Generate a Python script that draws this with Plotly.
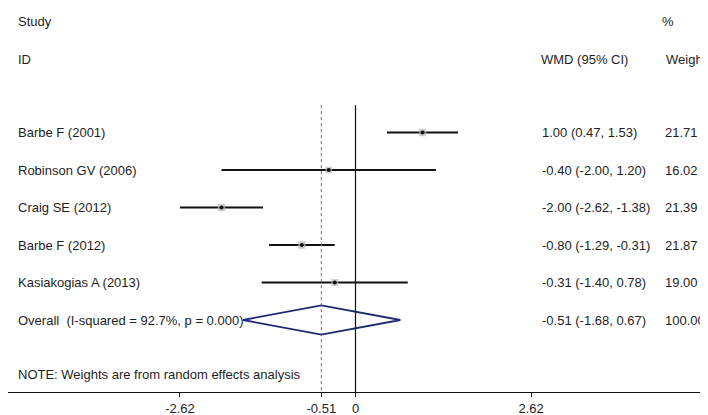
import plotly.graph_objects as go

# ---- data ----
studies = ["Barbe F (2001)", "Robinson GV (2006)", "Craig SE (2012)",
           "Barbe F (2012)", "Kasiakogias A (2013)"]
wmd = [1.00, -0.40, -2.00, -0.80, -0.31]
ci_low = [0.47, -2.00, -2.62, -1.29, -1.40]
ci_high = [1.53, 1.20, -1.38, -0.31, 0.78]
weights = [21.71, 16.02, 21.39, 21.87, 19.00]

overall_label = "Overall\u00a0 (I-squared = 92.7%, p = 0.000)"
overall_wmd = -0.51
overall_low = -1.68
overall_high = 0.67
overall_weight = 100.00

tick_vals = [-2.62, -0.51, 0, 2.62]
tick_text = ["-2.62", "-0.51", "0", "2.62"]
note_text = "NOTE: Weights are from random effects analysis"

# ---- layout helpers ----
W, H = 708, 415
B = 31
rows = list(range(len(studies)))
overall_row = len(studies)
FONT = dict(family="Arial, Liberation Sans, sans-serif", size=13, color="#1e1e1e")

fig = go.Figure()

# CI lines
cx, cy = [], []
for r, lo, hi in zip(rows, ci_low, ci_high):
    cx += [lo, hi, None]
    cy += [r, r, None]
fig.add_trace(go.Scatter(x=cx, y=cy, mode="lines",
                         line=dict(color="#111111", width=2), hoverinfo="skip"))

# weight boxes
sizes = [7.5 * (w / 21.87) ** 0.5 for w in weights]
fig.add_trace(go.Scatter(x=wmd, y=rows, mode="markers",
                         marker=dict(symbol="square", size=sizes, color="#b9b9b9",
                                     line=dict(width=0)), hoverinfo="skip"))
# point estimates
fig.add_trace(go.Scatter(x=wmd, y=rows, mode="markers",
                         marker=dict(symbol="circle", size=4, color="#111111"),
                         hoverinfo="skip"))

# overall diamond
h = 0.39
fig.add_trace(go.Scatter(
    x=[overall_low, overall_wmd, overall_high, overall_wmd, overall_low],
    y=[overall_row, overall_row - h, overall_row, overall_row + h, overall_row],
    mode="lines", line=dict(color="#1f2a6e", width=1.8), hoverinfo="skip"))

y_top = -0.73
y_bot = (H - B - 124.5) / 37.5
shapes = [
    dict(type="line", xref="x", yref="y", x0=0, x1=0, y0=y_top, y1=y_bot,
         line=dict(color="#111111", width=1.2)),
    dict(type="line", xref="x", yref="y", x0=overall_wmd, x1=overall_wmd,
         y0=y_top, y1=y_bot, line=dict(color="#b04a5a", width=1, dash="3px,3px")),
]

ann = []
def txt(xpx, y, s):
    ann.append(dict(x=xpx / W, xref="paper", y=y, yref="y", text=s,
                    showarrow=False, xanchor="left", yanchor="middle", font=FONT))

txt(8, -2.97, "Study")
txt(8, -1.96, "ID")
txt(531, -1.96, "WMD (95% CI)")
txt(652, -2.97, "%")
txt(656, -1.96, "Weight")
for r, s, m, lo, hi, w in zip(rows, studies, wmd, ci_low, ci_high, weights):
    txt(8, r, s)
    txt(532, r, f"{m:.2f} ({lo:.2f}, {hi:.2f})")
    txt(655, r, f"{w:.2f}")
txt(8, overall_row, overall_label)
txt(532, overall_row, f"{overall_wmd:.2f} ({overall_low:.2f}, {overall_high:.2f})")
txt(655, overall_row, f"{overall_weight:.2f}")
txt(8, 6.45, note_text)

x0 = -347.5 / 67.0
x1 = (W - 347.5) / 67.0
fig.update_layout(
    width=W, height=H, showlegend=False,
    margin=dict(l=0, r=0, t=0, b=B),
    paper_bgcolor="white", plot_bgcolor="white",
    shapes=shapes, annotations=ann,
    xaxis=dict(range=[x0, x1], showgrid=False, zeroline=False, showline=True,
               linecolor="#111111", linewidth=1, ticks="outside", ticklen=4,
               tickcolor="#111111", tickvals=tick_vals, ticktext=tick_text,
               tickfont=FONT),
    yaxis=dict(range=[y_bot, -124.5 / 37.5], visible=False),
)

fig.write_html("out.html", config={"displayModeBar": False})
